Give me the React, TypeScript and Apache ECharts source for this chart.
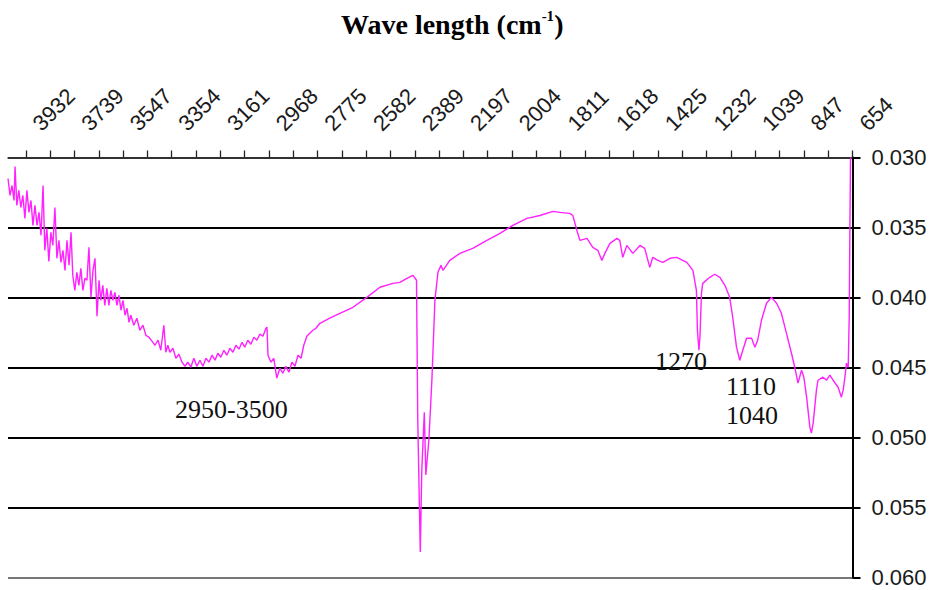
import React, { useEffect, useRef } from "react";
import * as echarts from "echarts";

const wavenumbers = [
  4003, 3995, 3987, 3979, 3975, 3968, 3960, 3952, 3944, 3936,
  3928, 3920, 3912, 3904, 3896, 3888, 3880, 3872, 3864, 3857,
  3849, 3841, 3833, 3825, 3817, 3809, 3801, 3793, 3785, 3777,
  3769, 3761, 3753, 3746, 3738, 3730, 3722, 3714, 3706, 3698,
  3690, 3682, 3674, 3666, 3658, 3650, 3642, 3635, 3627, 3619,
  3611, 3603, 3595, 3587, 3579, 3571, 3563, 3555, 3547, 3539,
  3531, 3523, 3516, 3504, 3492, 3480, 3468, 3456, 3444, 3432,
  3420, 3408, 3397, 3385, 3377, 3369, 3361, 3349, 3337, 3325,
  3313, 3301, 3290, 3278, 3266, 3254, 3242, 3230, 3218, 3206,
  3194, 3182, 3171, 3159, 3147, 3135, 3123, 3111, 3099, 3087,
  3075, 3064, 3052, 3040, 3028, 3016, 3004, 2992, 2980, 2976,
  2972, 2960, 2949, 2937, 2925, 2913, 2901, 2889, 2877, 2865,
  2853, 2841, 2830, 2818, 2806, 2794, 2782, 2766, 2727, 2687,
  2635, 2580, 2528, 2477, 2449, 2421, 2397, 2383, 2378, 2368,
  2362, 2352, 2346, 2334, 2322, 2310, 2298, 2286, 2278, 2251,
  2211, 2160, 2104, 2052, 2001, 1945, 1894, 1842, 1815, 1775,
  1763, 1747, 1735, 1707, 1684, 1664, 1648, 1636, 1616, 1588,
  1577, 1565, 1549, 1525, 1497, 1478, 1458, 1446, 1426, 1406,
  1378, 1351, 1311, 1287, 1273, 1269, 1263, 1259, 1253, 1248,
  1220, 1200, 1180, 1160, 1141, 1129, 1114, 1101, 1089, 1074,
  1054, 1041, 1030, 1015, 995, 975, 955, 936, 916, 896,
  883, 870, 856, 847, 836, 823, 817, 810, 797, 791,
  771, 757, 744, 731, 711, 698, 691, 684, 678, 671,
  667, 665, 662, 661,
];

const absorbance = [
  0.0315, 0.03271, 0.032, 0.03307, 0.03064, 0.03342, 0.03235, 0.03357, 0.03271, 0.03435,
  0.03235, 0.03392, 0.03307, 0.03485, 0.03342, 0.03485, 0.03392, 0.03556, 0.032, 0.03663,
  0.03506, 0.03742, 0.03535, 0.03628, 0.03357, 0.0372, 0.03592, 0.03749, 0.03663, 0.03806,
  0.03592, 0.0377, 0.03535, 0.03842, 0.03949, 0.0382, 0.03913, 0.03792, 0.03949, 0.03863,
  0.03877, 0.03642, 0.03999, 0.03806, 0.0372, 0.04134, 0.03877, 0.0402, 0.03913, 0.04056,
  0.03934, 0.04056, 0.03949, 0.0402, 0.03963, 0.04056, 0.03984, 0.04091, 0.0402, 0.04127,
  0.04077, 0.04177, 0.04127, 0.04198, 0.04148, 0.04234, 0.04198, 0.0427, 0.04284, 0.04312,
  0.04341, 0.04305, 0.04377, 0.04198, 0.04391, 0.04341, 0.04391, 0.04362, 0.04434, 0.04405,
  0.04462, 0.04491, 0.04462, 0.04498, 0.04434, 0.04491, 0.04448, 0.04491, 0.04434, 0.04462,
  0.04412, 0.04448, 0.04398, 0.04427, 0.04377, 0.04412, 0.04362, 0.04391, 0.04341, 0.04369,
  0.0432, 0.04355, 0.04305, 0.04334, 0.04284, 0.04305, 0.04262, 0.04277, 0.0422, 0.04213,
  0.04412, 0.04462, 0.04434, 0.04576, 0.04505, 0.04541, 0.04491, 0.04534, 0.04462, 0.04491,
  0.04412, 0.04434, 0.04341, 0.04277, 0.04255, 0.04234, 0.0422, 0.04184, 0.04148, 0.04113,
  0.0407, 0.03999, 0.03927, 0.03899, 0.03892, 0.03863, 0.03842, 0.03877, 0.04876, 0.05817,
  0.05233, 0.04819, 0.05268, 0.05019, 0.04591, 0.0402, 0.0382, 0.0377, 0.03806, 0.03735,
  0.03685, 0.03649, 0.03592, 0.03542, 0.03485, 0.03435, 0.03414, 0.03385, 0.03392, 0.03399,
  0.03414, 0.03521, 0.03592, 0.03578, 0.03642, 0.03663, 0.03735, 0.03685, 0.03613, 0.03578,
  0.03592, 0.03713, 0.03628, 0.03685, 0.03628, 0.03649, 0.03785, 0.03713, 0.03735, 0.03749,
  0.0372, 0.03713, 0.03749, 0.03806, 0.03949, 0.04234, 0.04377, 0.04284, 0.0397, 0.03899,
  0.03856, 0.03834, 0.03856, 0.03913, 0.03999, 0.04141, 0.04355, 0.04448, 0.04377, 0.04291,
  0.04291, 0.04355, 0.04305, 0.04163, 0.04041, 0.03999, 0.04041, 0.04113, 0.04255, 0.04398,
  0.04498, 0.04612, 0.04519, 0.04569, 0.04712, 0.04926, 0.04969, 0.04897, 0.04662, 0.04591,
  0.04569, 0.04591, 0.04555, 0.04591, 0.04641, 0.04712, 0.04662, 0.04569, 0.04469, 0.04498,
  0.04141, 0.03663, 0.03021, 0.03,
];

const xTickLabels = [
  3932, 3739, 3547, 3354, 3161, 2968, 2775, 2582, 2389, 2197, 2004, 1811, 1618, 1425, 1232,
  1039, 847, 654,
];

const annotations = [
  { text: "2950-3500", x: 175, y: 409 },
  { text: "1270", x: 655, y: 361 },
  { text: "1110", x: 726, y: 386 },
  { text: "1040", x: 726, y: 415 },
];

export default function App() {
  const ref = useRef<HTMLDivElement>(null);
  useEffect(() => {
    if (!ref.current) return;
    const chart = echarts.init(ref.current, undefined, { renderer: "svg" });
    const data = wavenumbers.map((w, i) => [w, absorbance[i]]);
    const tickValues: number[] = [];
    for (let i = 0; i < xTickLabels.length; i++) {
      tickValues.push(xTickLabels[i]);
      if (i < xTickLabels.length - 1) tickValues.push((xTickLabels[i] + xTickLabels[i + 1]) / 2);
    }
    chart.setOption({
      animation: false,
      backgroundColor: "#ffffff",
      title: {
        text: "{b|Wave length (cm}{s|-1}{b|)}",
        left: 336,
        top: 3,
        textStyle: {
          rich: {
            b: {
              fontFamily: "'Liberation Serif', serif",
              fontWeight: "bold",
              fontSize: 28,
              color: "#000",
              lineHeight: 32,
            },
            s: {
              fontFamily: "'Liberation Serif', serif",
              fontWeight: "bold",
              fontSize: 15,
              color: "#000",
              verticalAlign: "top",
              lineHeight: 32,
              padding: [0, 0, 12, 0],
            },
          },
        },
      },
      grid: {
        left: 8,
        right: 78.5,
        top: 157.5,
        bottom: 12.5,
        containLabel: false,
        outerBoundsMode: "none",
      },
      xAxis: {
        type: "value",
        position: "top",
        inverse: true,
        min: 654,
        max: 4003,
        axisLine: { show: true, lineStyle: { color: "#333", width: 1.5 } },
        axisTick: {
          show: true,
          length: 7,
          customValues: tickValues,
          lineStyle: { color: "#222", width: 1.3 },
        },
        axisLabel: {
          show: true,
          customValues: xTickLabels,
          rotate: -45,
          margin: 20,
          padding: [0, 0, 0, 15],
          hideOverlap: false,
          fontFamily: "'Liberation Sans', Arial, sans-serif",
          fontSize: 22,
          color: "#1a1a1a",
          formatter: (v: number) => String(Math.round(v)),
        },
        splitLine: { show: false },
      },
      yAxis: {
        type: "value",
        position: "right",
        inverse: true,
        min: 0.03,
        max: 0.06,
        interval: 0.005,
        axisLine: { show: true, onZero: false, lineStyle: { color: "#000", width: 2 } },
        axisTick: { show: true, length: 8, inside: false, lineStyle: { color: "#000", width: 2 } },
        axisLabel: {
          margin: 19,
          fontFamily: "'Liberation Sans', Arial, sans-serif",
          fontSize: 22,
          color: "#1a1a1a",
          formatter: (v: number) => v.toFixed(3),
        },
        splitLine: {
          show: true,
          lineStyle: {
            color: ["#333", "#000", "#000", "#000", "#000", "#000", "#777"],
            width: 2,
          },
        },
      },
      series: [
        {
          type: "line",
          data,
          showSymbol: false,
          symbol: "none",
          lineStyle: { color: "#ff22ff", width: 1.4 },
          z: 3,
        },
      ],
      graphic: annotations.map((a) => ({
        type: "text",
        x: a.x,
        y: a.y,
        z: 10,
        style: {
          text: a.text,
          fontFamily: "'Liberation Serif', serif",
          fontSize: 26,
          fill: "#111",
          verticalAlign: "middle",
          align: "left",
        },
      })),
    });
    return () => chart.dispose();
  }, []);
  return (
    <div
      ref={ref}
      style={{ position: "fixed", left: 0, top: 0, width: 931, height: 590 }}
    />
  );
}
